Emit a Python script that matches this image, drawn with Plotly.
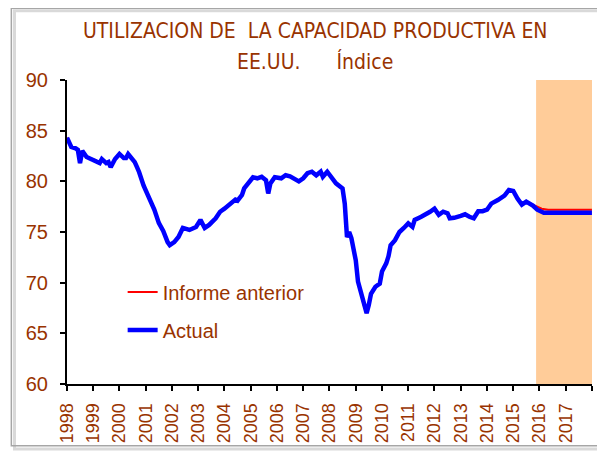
import plotly.graph_objects as go

# ---- data ----
actual_dates = [
    "1998-01", "1998-03", "1998-05", "1998-06", "1998-07", "1998-08", "1998-10", "1998-12",
    "1999-02", "1999-04", "1999-05", "1999-07", "1999-08", "1999-09", "1999-11",
    "2000-01", "2000-03", "2000-04", "2000-05", "2000-06", "2000-08", "2000-09", "2000-10", "2000-12",
    "2001-03", "2001-05", "2001-07", "2001-09", "2001-11", "2001-12",
    "2002-02", "2002-04", "2002-06", "2002-09", "2002-12",
    "2003-02", "2003-04", "2003-06", "2003-09", "2003-11",
    "2004-01", "2004-03", "2004-04", "2004-06", "2004-07", "2004-09", "2004-10", "2004-12",
    "2005-02", "2005-04", "2005-06", "2005-08", "2005-09", "2005-10", "2005-12",
    "2006-03", "2006-05", "2006-07", "2006-09", "2006-11",
    "2007-01", "2007-03", "2007-05", "2007-07", "2007-09", "2007-10", "2007-12",
    "2008-02", "2008-04", "2008-07", "2008-08", "2008-09", "2008-10", "2008-11",
    "2009-01", "2009-02", "2009-03", "2009-04", "2009-05", "2009-06", "2009-07", "2009-08", "2009-10", "2009-12",
    "2010-01", "2010-03", "2010-04", "2010-05", "2010-07", "2010-09", "2010-11",
    "2011-01", "2011-03", "2011-04", "2011-07", "2011-09", "2011-11",
    "2012-01", "2012-03", "2012-05", "2012-07", "2012-08", "2012-10",
    "2013-01", "2013-03", "2013-05", "2013-07", "2013-09", "2013-11",
    "2014-01", "2014-03", "2014-06", "2014-08", "2014-09", "2014-11",
    "2015-01", "2015-03", "2015-05", "2015-07", "2015-10", "2015-12",
    "2016-01", "2016-03", "2017-12-31",
]
actual_values = [
    84.3, 83.4, 83.25, 83.1, 81.8, 83.0, 82.4, 82.2,
    82.1, 81.8, 82.2, 81.8, 81.9, 81.4, 82.2,
    82.7, 82.3, 82.3, 82.7, 82.4, 81.9, 81.4, 80.9, 79.6,
    78.2, 77.2, 75.9, 75.1, 74.0, 73.7,
    74.0, 74.5, 75.4, 75.2, 75.5,
    76.2, 75.4, 75.7, 76.35, 77.0,
    77.3, 77.7, 77.8, 78.2, 78.1, 78.65, 79.3, 79.8,
    80.4, 80.3, 80.45, 80.1, 78.8, 79.8, 80.4,
    80.3, 80.6, 80.5, 80.3, 80.0,
    80.3, 80.8, 80.95, 80.6, 80.95, 80.45, 80.95,
    80.45, 79.8, 79.3, 77.8, 74.5, 75.0, 74.4,
    72.2, 70.1, 69.4, 68.3, 67.5, 67.0, 67.8, 68.9, 69.6, 69.9,
    71.1, 71.9, 72.6, 73.7, 74.2, 75.0, 75.4,
    75.85, 75.5, 76.2, 76.5, 76.7, 77.0,
    77.3, 76.7, 77.0, 76.85, 76.35, 76.4,
    76.6, 76.75, 76.5, 76.35, 77.05, 77.05,
    77.2, 77.8, 78.15, 78.4, 78.6, 79.15,
    79.05, 78.3, 77.7, 78.0, 77.6, 77.2,
    77.1, 76.9, 76.9,
]

# previous report: same history up to mid-2015, then its own forecast
prev_tail_dates = ["2015-10", "2015-12", "2016-02", "2016-05", "2017-12-31"]
prev_tail_values = [77.7, 77.45, 77.3, 77.2, 77.2]
n_hist = actual_dates.index("2015-07") + 1
previous_dates = actual_dates[:n_hist] + prev_tail_dates
previous_values = actual_values[:n_hist] + prev_tail_values

forecast_start = "2015-11-15"
forecast_end = "2018-01-01"

year_ticks = [str(y) for y in range(1998, 2019)]
year_labels = [str(y) for y in range(1998, 2018)] + [""]

y_ticks = [60, 65, 70, 75, 80, 85, 90]

title_line1 = "UTILIZACION DE  LA CAPACIDAD PRODUCTIVA EN"
title_line2 = "EE.UU.      Índice"

# ---- styling ----
BROWN = "#993300"
FONT = "Liberation Sans, Arial, sans-serif"
TITLE_FONT = "DejaVu Sans Condensed, Liberation Sans Narrow, Liberation Sans, sans-serif"

fig = go.Figure()

fig.add_trace(go.Scatter(
    x=previous_dates, y=previous_values, mode="lines", name="Informe anterior",
    line=dict(color="#FF0000", width=2), legendgroup="a",
))
fig.add_trace(go.Scatter(
    x=actual_dates, y=actual_values, mode="lines", name="Actual",
    line=dict(color="#0000FF", width=4.5), legendgroup="b",
))

# forecast shading
fig.add_shape(type="rect", xref="x", yref="y",
              x0=forecast_start, x1=forecast_end, y0=60, y1=90,
              fillcolor="#FFCC99", line=dict(width=0), layer="below")

# outer chart frame (with a light shadow)
fig.add_shape(type="rect", xref="paper", yref="paper",
              x0=-0.100, x1=1.020, y0=-0.214, y1=1.228,
              line=dict(color="#D9D9D9", width=3), layer="above")
fig.add_shape(type="rect", xref="paper", yref="paper",
              x0=-0.106, x1=1.013, y0=-0.203, y1=1.236,
              line=dict(color="#A6A6A6", width=1.5), layer="above")

# title (two centred lines)
fig.add_annotation(text=title_line1, xref="paper", yref="paper",
                   x=0.472, y=1.16, xanchor="center", yanchor="middle",
                   showarrow=False,
                   font=dict(family=TITLE_FONT, size=21, color=BROWN))
fig.add_annotation(text=title_line2, xref="paper", yref="paper",
                   x=0.472, y=1.062, xanchor="center", yanchor="middle",
                   showarrow=False,
                   font=dict(family=TITLE_FONT, size=21, color=BROWN))

fig.update_layout(
    width=597, height=444,
    margin=dict(l=59, r=13, t=72, b=68),
    paper_bgcolor="white", plot_bgcolor="white",
    xaxis=dict(
        type="date",
        range=["1998-01-01", "2018-01-01"],
        tickmode="array", tickvals=year_ticks, ticktext=year_labels,
        tickangle=-90,
        ticks="outside", ticklen=5, tickwidth=2, tickcolor="black",
        ticklabelstandoff=5,
        automargin=False,
        showline=True, linecolor="black", linewidth=2,
        showgrid=False, zeroline=False,
        tickfont=dict(family=FONT, size=18, color=BROWN),
    ),
    yaxis=dict(
        range=[60, 90],
        tickmode="array", tickvals=y_ticks,
        ticks="outside", ticklen=5, tickwidth=2, tickcolor="black",
        ticklabelstandoff=8,
        automargin=False,
        showline=True, linecolor="black", linewidth=2,
        showgrid=False, zeroline=False,
        tickfont=dict(family=FONT, size=20, color=BROWN),
    ),
    showlegend=True,
    legend=dict(
        x=0.106, y=0.367, xanchor="left", yanchor="top",
        bgcolor="rgba(0,0,0,0)",
        font=dict(family=FONT, size=20, color=BROWN),
        tracegroupgap=9,
        traceorder="grouped",
    ),
)

fig.write_html("out.html")
